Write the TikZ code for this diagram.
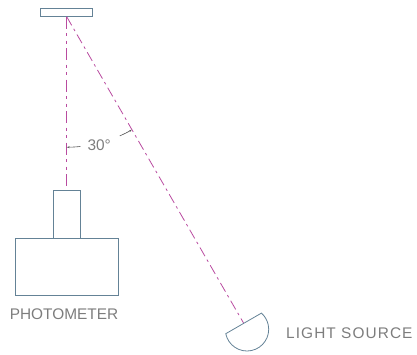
\documentclass[tikz,border=0pt]{standalone}
\usepackage{fontspec}
\setmainfont{Liberation Sans}
\usetikzlibrary{calc,arrows.meta}
\definecolor{axiscol}{RGB}{185,75,160}
\definecolor{partcol}{RGB}{100,130,150}
\definecolor{textcol}{RGB}{125,125,125}
\definecolor{dimcol}{RGB}{85,85,85}
\begin{document}
\begin{tikzpicture}[x=1pt,y=1pt,
  part/.style={draw=partcol,line width=0.8pt,fill=white,inner sep=0pt,outer sep=0pt},
  axis/.style={draw=axiscol,line width=0.8pt,dash pattern=on 12pt off 4.5pt on 3pt off 4.5pt on 3pt off 4.5pt},
  axisb/.style={draw=axiscol,line width=0.8pt,dash pattern=on 10pt off 4pt on 2.5pt off 4pt},
  dimline/.style={draw=dimcol,line width=0.6pt},
  lbl/.style={text=textcol,inner sep=0pt,font=\fontsize{15.4}{18}\selectfont}]
\useasboundingbox (0,0) rectangle (417,354);
% mirror
\node[part,minimum width=51.7pt,minimum height=8.4pt] (mirror) at (66.7,341.5) {};
% photometer
\node[part,minimum width=102.7pt,minimum height=57pt] (body) at (66.7,87.2) {};
\node[part,minimum width=26.7pt,minimum height=48.3pt,anchor=south] (head) at (body.north) {};
\node[lbl] (photolbl) at (64,40) {PHOTOMETER};
% light source
\coordinate (lampc) at (247,24.7);
\coordinate (lampm) at ($(mirror.south)+(-60:353.8)$);
\draw[axis] (mirror.south) -- (head.north);
\draw[axisb] (mirror.south) -- (lampm);
\draw[draw=partcol,line width=0.8pt] ($(lampc)+(191.7:21.7)$) arc[start angle=191.7,end angle=408.3,radius=21.7] -- cycle;
\node[lbl,anchor=west,font=\fontsize{15.4}{18}\selectfont\addfontfeature{LetterSpace=7}] (lamplbl) at (286,21.3) {LIGHT SOURCE};
% angle dimension
\draw[dimline,-{Stealth[length=3pt,width=1.8pt]}] ($(mirror.south)+(-84:130.5)$) arc[start angle=-84,end angle=-90,radius=130.5];
\draw[dimline,-{Stealth[length=3pt,width=1.8pt]}] ($(mirror.south)+(-66:130.5)$) arc[start angle=-66,end angle=-60,radius=130.5];
\node[lbl] (anglelbl) at (99.2,209) {30°};
\end{tikzpicture}
\end{document}
